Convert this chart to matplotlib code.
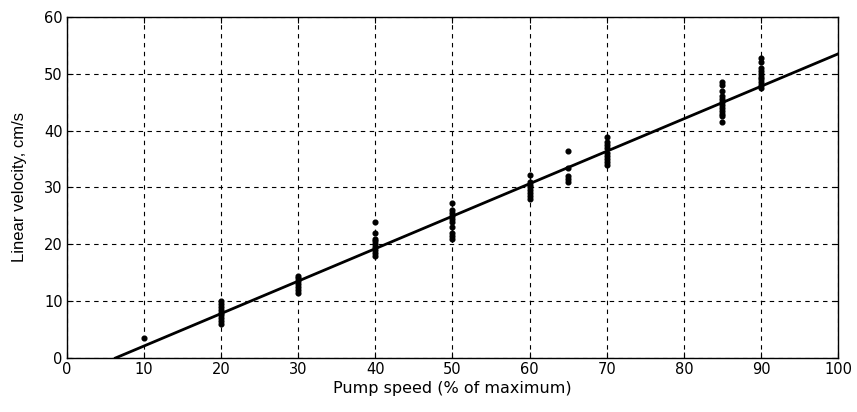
import matplotlib
matplotlib.use("Agg")
import matplotlib.pyplot as plt
import numpy as np

plt.rcParams['font.family'] = ['DejaVu Sans']

speed_10 = [10]
vel_10 = [3.5]
speed_20 = [20] * 9
vel_20 = [6.0, 6.5, 7.0, 7.5, 8.0, 8.5, 9.0, 9.5, 10.0]
speed_30 = [30] * 7
vel_30 = [11.5, 12.0, 12.5, 13.0, 13.5, 14.0, 14.5]
speed_40 = [40] * 9
vel_40 = [18.0, 18.5, 19.0, 19.5, 20.0, 20.5, 21.0, 22.0, 24.0]
speed_50 = [50] * 10
vel_50 = [21.0, 21.5, 22.0, 23.0, 24.0, 24.5, 25.0, 25.5, 26.0, 27.3]
speed_60 = [60] * 8
vel_60 = [28.0, 28.5, 29.0, 29.5, 30.0, 30.5, 31.0, 32.2]
speed_65 = [65] * 5
vel_65 = [31.0, 31.5, 32.0, 33.5, 36.5]
speed_70 = [70] * 9
vel_70 = [34.0, 34.5, 35.0, 35.5, 36.0, 37.0, 37.5, 38.0, 38.8]
speed_85 = [85] * 12
vel_85 = [41.5, 42.5, 43.0, 43.5, 44.0, 44.5, 45.0, 45.5, 46.0, 47.0, 48.0, 48.5]
speed_90 = [90] * 10
vel_90 = [47.5, 48.0, 48.5, 49.0, 49.5, 50.0, 50.5, 51.0, 52.0, 52.7]

fit_x = [6.3, 100]
fit_y = [0.0, 53.5]

xticks = [0, 10, 20, 30, 40, 50, 60, 70, 80, 90, 100]
yticks = [0, 10, 20, 30, 40, 50, 60]

fig = plt.figure(figsize=(8.57, 4.12), dpi=100)
ax = fig.add_axes([0.078, 0.131, 0.900, 0.828])

xs = speed_10 + speed_20 + speed_30 + speed_40 + speed_50 + speed_60 + speed_65 + speed_70 + speed_85 + speed_90
ys = vel_10 + vel_20 + vel_30 + vel_40 + vel_50 + vel_60 + vel_65 + vel_70 + vel_85 + vel_90
ax.plot(xs, ys, linestyle='none', marker='o', markersize=3.4, color='black')
ax.plot(fit_x, fit_y, color='black', linewidth=2.0)

ax.set_xlim(0, 100)
ax.set_ylim(0, 60)
ax.set_xticks(xticks)
ax.set_yticks(yticks)
ax.grid(True, color='black', linestyle=(0, (4, 4)), linewidth=0.8)
ax.tick_params(direction='in', length=4, labelsize=10.5, top=True, right=True, colors='black', pad=3)
for s in ax.spines.values():
    s.set_linewidth(1.0)
ax.set_xlabel('Pump speed (% of maximum)', fontsize=11.5, labelpad=3)
ax.set_ylabel('Linear velocity, cm/s', fontsize=12, labelpad=12, family='Liberation Sans')

fig.savefig('out.png', dpi=100)
